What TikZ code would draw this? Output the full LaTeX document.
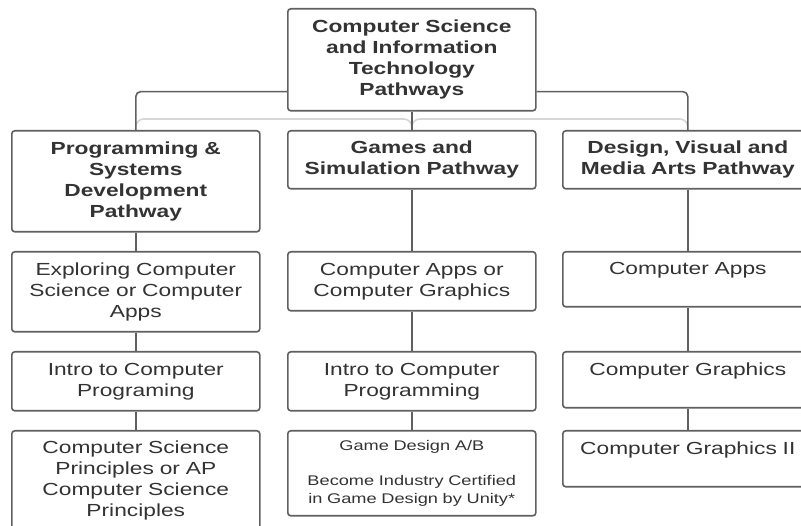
\documentclass[tikz,border=0pt]{standalone}
\usepackage{fontspec}
\setmainfont{Liberation Sans}[FakeStretch=1.3]
\usetikzlibrary{positioning}
\definecolor{linec}{HTML}{606060}
\definecolor{txtc}{HTML}{333333}
\definecolor{faintc}{HTML}{D6D6D6}
\tikzset{
  box/.style={draw=linec, line width=1.6pt, rounded corners=3pt, anchor=north west,
    inner sep=0pt, align=center, text=txtc, minimum width=248pt, text width=240pt,
    font=\fontsize{17.5}{21}\selectfont},
  hdr/.style={box, font=\fontsize{17.5}{21}\selectfont\bfseries},
  wide/.style={minimum width=250pt, text width=242pt},
  small/.style={font=\fontsize{14}{17.5}\selectfont},
  conn/.style={draw=linec, line width=1.6pt, rounded corners=5pt},
  faint/.style={draw=faintc, line width=1.6pt, rounded corners=8pt}
}
\begin{document}
\begin{tikzpicture}[x=1pt,y=-1pt]
\clip (0,0) rectangle (801,526);
\fill[white] (0,0) rectangle (801,526);
% top
\node[hdr, minimum height=102pt] (top) at (287,8) {Computer Science\\and Information\\Technology\\Pathways};
% row 1
\node[hdr, minimum height=101pt] (p1) at (11,130) {Programming \&\\Systems\\Development\\Pathway};
\node[hdr, minimum height=58pt] (p2) at (287,130) {Games and\\Simulation Pathway};
\node[hdr, wide, minimum height=58pt] (p3) at (562,130) {Design, Visual and\\Media Arts Pathway};
% row 2
\node[box, minimum height=80pt] (a1) at (11,251) {Exploring Computer\\Science or Computer\\Apps};
\node[box, minimum height=59pt] (a2) at (287,251) {Computer Apps or\\Computer Graphics};
\node[box, wide, minimum height=55pt] (a3) at (562,251) {Computer Apps\\\mbox{}};
% row 3
\node[box, minimum height=59pt] (b1) at (11,351) {Intro to Computer\\Programing};
\node[box, minimum height=59pt] (b2) at (287,351) {Intro to Computer\\Programming};
\node[box, wide, minimum height=56pt] (b3) at (562,351) {Computer Graphics\\\mbox{}};
% row 4
\node[box, minimum height=100pt] (c1) at (11,430) {Computer Science\\Principles or AP\\Computer Science\\Principles};
\node[box, small, minimum height=85pt] (c2) at (287,430) {Game Design A/B\\[17.5pt]Become Industry Certified\\in Game Design by Unity*};
\node[box, wide, minimum height=56pt] (c3) at (562,430) {Computer Graphics II\\\mbox{}};
% faint guide lines
\draw[faint] (p1.north) |- ([yshift=11pt]p2.north) -- (p2.north);
\draw[faint] (p2.north) |- ([yshift=11pt]p3.north) -- (p3.north);
% connectors from top
\draw[conn] (top.south west) ++(0,-20) -| (p1.north);
\draw[conn] (top.south east) ++(0,-20) -| (p3.north);
\draw[conn] (top.south) -- (p2.north);
% column connectors
\draw[conn] (p1.south) -- (a1.north);
\draw[conn] (a1.south) -- (b1.north);
\draw[conn] (b1.south) -- (c1.north);
\draw[conn] (p2.south) -- (a2.north);
\draw[conn] (a2.south) -- (b2.north);
\draw[conn] (b2.south) -- (c2.north);
\draw[conn] (p3.south) -- (a3.north);
\draw[conn] (a3.south) -- (b3.north);
\draw[conn] (b3.south) -- (c3.north);
\end{tikzpicture}
\end{document}
